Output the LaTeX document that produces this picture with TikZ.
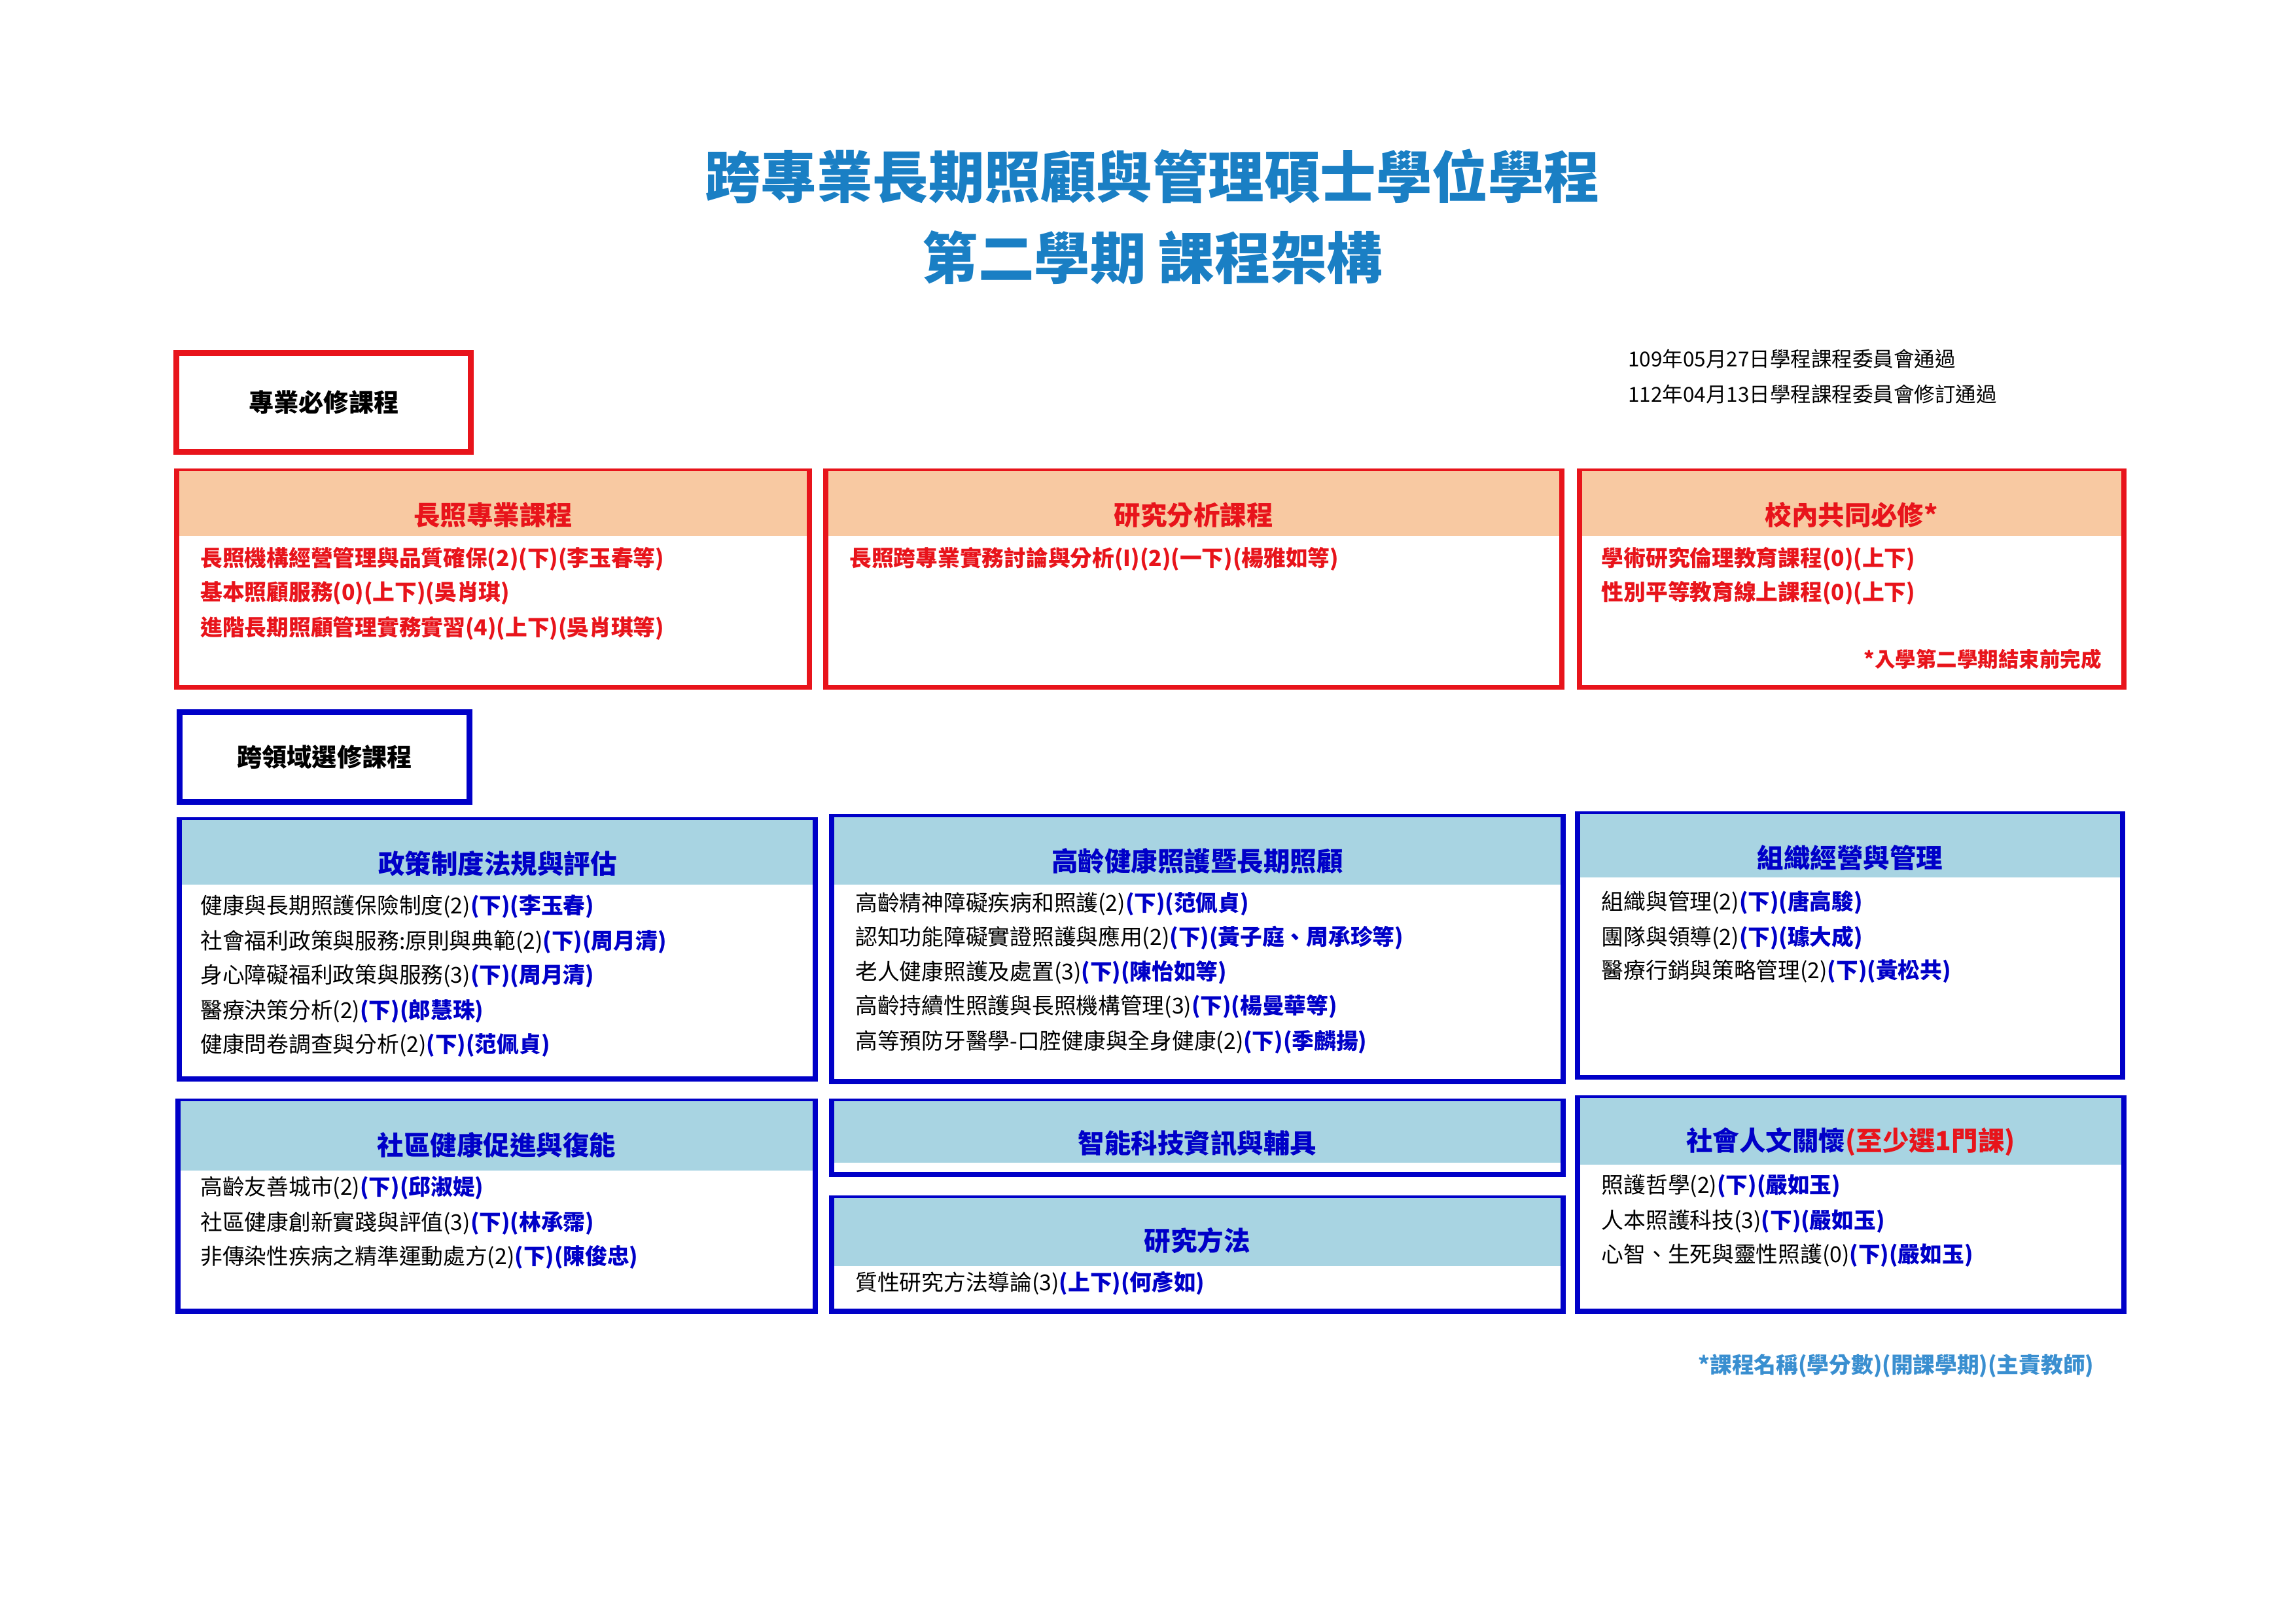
\documentclass[tikz,border=0pt]{standalone}
\usepackage{fontspec}
\setmainfont{Noto Sans CJK TC}
\usetikzlibrary{positioning}
\definecolor{titleblue}{HTML}{1A7FC4}
\definecolor{tblue}{HTML}{0000C8}
\definecolor{tred}{HTML}{E8141B}
\definecolor{peach}{HTML}{F8C9A2}
\definecolor{skyhead}{HTML}{A8D4E2}
\definecolor{noteblue}{HTML}{3A8FD0}
\newcommand\tb[1]{\textcolor{tblue}{\bfseries #1}}

\begin{document}
\begin{tikzpicture}[
        x=1pt, y=-1pt,
        font=\fontsize{15}{18}\selectfont,
        redbox/.style={draw=tred, line width=3.5pt, fill=white, minimum width=#1, inner sep=0pt},
        bluebox/.style={draw=tblue, line width=3.5pt, fill=white, minimum width=#1, inner sep=0pt},
        tagbox/.style={line width=4pt, inner sep=0pt, font=\fontsize{17}{20}\selectfont\bfseries},
        head/.style={anchor=north, yshift=-1.75pt, inner sep=0pt, minimum width=#1},
        headtext/.style={font=\fontsize{18}{22}\selectfont\bfseries},
        item/.style={anchor=west, inner sep=0pt},
    ]
    \useasboundingbox (0,0) rectangle (1560,1103);

    % Title
    \node[text=titleblue, font=\fontsize{38}{44}\selectfont\bfseries] (title1) at (783,120) {跨專業長期照顧與管理碩士學位學程};
    \node[text=titleblue, font=\fontsize{38}{44}\selectfont\bfseries] (title2) at (783,175) {第二學期 課程架構};

    % Dates
    \node[item, font=\fontsize{14}{16}\selectfont] (date1) at (1106,244) {109年05月27日學程課程委員會通過};
    \node[item, font=\fontsize{14}{16}\selectfont] (date2) at (1106,268) {112年04月13日學程課程委員會修訂通過};

    % Required courses
    \node[tagbox, draw=tred, minimum width=200, minimum height=67] (required) at (220,273.5) {專業必修課程};

    \node[redbox=430, minimum height=147] (care) at (335,393.5) {};
    \node[head=426.5, fill=peach, minimum height=44] (careh) at (care.north) {};
    \node[headtext, text=tred] (caret) at (335,350) {長照專業課程};
    \begin{scope}[text=tred, font=\fontsize{15}{18}\selectfont\bfseries]
        \node[item] (care1) at (136,380) {長照機構經營管理與品質確保(2)(下)(李玉春等)};
        \node[item] (care2) at (136,403) {基本照顧服務(0)(上下)(吳肖琪)};
        \node[item] (care3) at (136,427) {進階長期照顧管理實務實習(4)(上下)(吳肖琪等)};
    \end{scope}

    \node[redbox=500, minimum height=147] (research) at (811,393.5) {};
    \node[head=496.5, fill=peach, minimum height=44] (researchh) at (research.north) {};
    \node[headtext, text=tred] (researcht) at (811,350) {研究分析課程};
    \node[item, text=tred, font=\fontsize{15}{18}\selectfont\bfseries] (research1) at (577,380) {長照跨專業實務討論與分析(I)(2)(一下)(楊雅如等)};

    \node[redbox=370, minimum height=147] (campus) at (1258,393.5) {};
    \node[head=366.5, fill=peach, minimum height=44] (campush) at (campus.north) {};
    \node[headtext, text=tred] (campust) at (1258,350) {校內共同必修*};
    \begin{scope}[text=tred, font=\fontsize{15}{18}\selectfont\bfseries]
        \node[item] (campus1) at (1088,380) {學術研究倫理教育課程(0)(上下)};
        \node[item] (campus2) at (1088,403) {性別平等教育線上課程(0)(上下)};
        \node[anchor=east, inner sep=0pt, font=\fontsize{14}{16}\selectfont\bfseries] (campusnote) at (1428,448) {*入學第二學期結束前完成};
    \end{scope}

    % Elective courses
    \node[tagbox, draw=tblue, minimum width=197, minimum height=61] (elective) at (220.5,514.5) {跨領域選修課程};

    \node[bluebox=432, minimum height=176] (policy) at (338,645) {};
    \node[head=428.5, fill=skyhead, minimum height=44] (policyh) at (policy.north) {};
    \node[headtext, text=tblue] (policyt) at (338,587) {政策制度法規與評估};
    \node[item] (policy1) at (136,616) {健康與長期照護保險制度(2)\tb{(下)(李玉春)}};
    \node[item] (policy2) at (136,640) {社會福利政策與服務:原則與典範(2)\tb{(下)(周月清)}};
    \node[item] (policy3) at (136,663) {身心障礙福利政策與服務(3)\tb{(下)(周月清)}};
    \node[item] (policy4) at (136,687) {醫療決策分析(2)\tb{(下)(郎慧珠)}};
    \node[item] (policy5) at (136,710) {健康問卷調查與分析(2)\tb{(下)(范佩貞)}};

    \node[bluebox=497, minimum height=180] (aging) at (813.5,645) {};
    \node[head=493.5, fill=skyhead, minimum height=46] (agingh) at (aging.north) {};
    \node[headtext, text=tblue] (agingt) at (813.5,585) {高齡健康照護暨長期照顧};
    \node[item] (aging1) at (581,614) {高齡精神障礙疾病和照護(2)\tb{(下)(范佩貞)}};
    \node[item] (aging2) at (581,637) {認知功能障礙實證照護與應用(2)\tb{(下)(黃子庭、周承珍等)}};
    \node[item] (aging3) at (581,661) {老人健康照護及處置(3)\tb{(下)(陳怡如等)}};
    \node[item] (aging4) at (581,684) {高齡持續性照護與長照機構管理(3)\tb{(下)(楊曼華等)}};
    \node[item] (aging5) at (581,708) {高等預防牙醫學-口腔健康與全身健康(2)\tb{(下)(季麟揚)}};

    \node[bluebox=370, minimum height=179] (manage) at (1257,642.5) {};
    \node[head=366.5, fill=skyhead, minimum height=43] (manageh) at (manage.north) {};
    \node[headtext, text=tblue] (managet) at (1257,583) {組織經營與管理};
    \node[item] (manage1) at (1088,613) {組織與管理(2)\tb{(下)(唐高駿)}};
    \node[item] (manage2) at (1088,637) {團隊與領導(2)\tb{(下)(璩大成)}};
    \node[item] (manage3) at (1088,660) {醫療行銷與策略管理(2)\tb{(下)(黃松共)}};

    \node[bluebox=433, minimum height=143] (community) at (337.5,819.5) {};
    \node[head=429.5, fill=skyhead, minimum height=47] (communityh) at (community.north) {};
    \node[headtext, text=tblue] (communityt) at (337.5,778) {社區健康促進與復能};
    \node[item] (community1) at (136,807) {高齡友善城市(2)\tb{(下)(邱淑媞)}};
    \node[item] (community2) at (136,831) {社區健康創新實踐與評值(3)\tb{(下)(林承霈)}};
    \node[item] (community3) at (136,854) {非傳染性疾病之精準運動處方(2)\tb{(下)(陳俊忠)}};

    \node[bluebox=497, minimum height=50] (smart) at (813.5,773) {};
    \node[head=493.5, fill=skyhead, minimum height=42] (smarth) at (smart.north) {};
    \node[headtext, text=tblue] (smartt) at (813.5,777) {智能科技資訊與輔具};

    \node[bluebox=497, minimum height=77] (method) at (813.5,852.5) {};
    \node[head=493.5, fill=skyhead, minimum height=46] (methodh) at (method.north) {};
    \node[headtext, text=tblue] (methodt) at (813.5,843) {研究方法};
    \node[item] (method1) at (581,872) {質性研究方法導論(3)\tb{(上下)(何彥如)}};

    \node[bluebox=371, minimum height=145] (humanity) at (1257.5,818.5) {};
    \node[head=367.5, fill=skyhead, minimum height=45] (humanityh) at (humanity.north) {};
    \node[headtext, text=tblue] (humanityt) at (1257.5,776) {社會人文關懷\textcolor{tred}{(至少選1門課)}};
    \node[item] (humanity1) at (1088,806) {照護哲學(2)\tb{(下)(嚴如玉)}};
    \node[item] (humanity2) at (1088,830) {人本照護科技(3)\tb{(下)(嚴如玉)}};
    \node[item] (humanity3) at (1088,853) {心智、生死與靈性照護(0)\tb{(下)(嚴如玉)}};

    % Note
    \node[anchor=east, inner sep=0pt, text=noteblue, font=\fontsize{15}{18}\selectfont\bfseries] (legend) at (1423,928) {*課程名稱(學分數)(開課學期)(主責教師)};

\end{tikzpicture}
\end{document}
